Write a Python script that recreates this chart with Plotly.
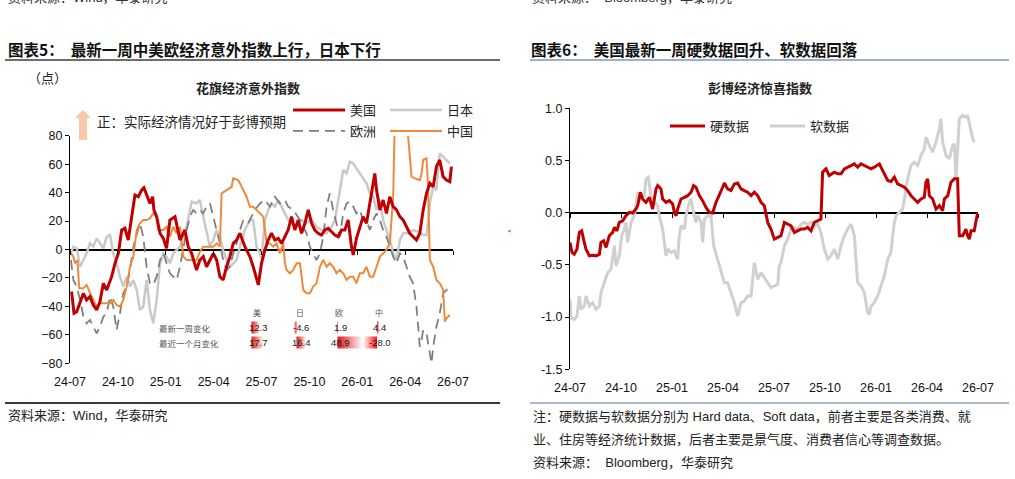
import plotly.graph_objects as go

W, H = 1015, 479
def px(x): return x / W
def py(y): return 1 - y / H

# ---------------- data ----------------
TICK_VALS = [0, 3, 6, 9, 12, 15, 18, 21, 24]          # months since 2024-07
TICK_LABELS = ["24-07", "24-10", "25-01", "25-04", "25-07", "25-10", "26-01", "26-04", "26-07"]

# Citi economic surprise index (months since 2024-07, value)
US = [(0.10,-29.6),(0.25,-44.8),(0.42,-43.7),(0.63,-36.6),(0.84,-30.8),(1.04,-35.5),(1.25,-33.1),(1.46,-39.0),
      (1.67,-42.5),(1.88,-36.6),(2.09,-23.8),(2.30,-28.5),(2.61,-19.1),(2.82,-9.7),(3.03,-2.7),(3.24,13.7),
      (3.44,14.9),(3.65,6.7),(3.86,23.1),(4.07,38.3),(4.28,37.1),(4.49,41.8),(4.63,43.4),(4.80,38.3),
      (5.01,32.4),(5.18,37.1),(5.26,27.8),(5.43,23.1),(5.64,11.4),(5.85,7.8),(6.05,0.8),(6.26,20.7),
      (6.58,23.1),(6.89,6.7),(7.20,13.7),(7.41,2.0),(7.62,-2.7),(7.93,-14.4),(8.14,-7.4),(8.35,-5.0),
      (8.56,-12.1),(8.98,-2.7),(9.19,-7.4),(9.39,-19.1),(9.60,-21.4),(9.81,-12.1),(10.02,-5.0),(10.23,4.3),
      (10.44,6.7),(10.65,11.4),(10.96,2.0),(11.17,-2.7),(11.27,-5.0),(11.48,-12.1),(11.69,-21.4),(11.80,-24.9),
      (12.00,-9.7),(12.21,-0.4),(12.42,6.7),(12.63,11.4),(12.84,6.7),(13.05,7.8),(13.26,4.3),(13.47,9.0),
      (13.67,13.7),(13.88,23.1),(14.09,13.7),(14.30,20.7),(14.51,11.4),(14.72,18.4),(14.93,27.8),(15.14,18.4),
      (15.34,13.7),(15.55,11.4),(15.76,10.2),(15.97,13.7),(16.18,14.9),(16.39,12.5),(16.60,10.2),(16.81,9.0),
      (17.01,13.7),(17.22,13.7),(17.43,20.7),(17.64,2.0),(17.75,-3.9),(17.95,7.8),(18.16,16.0),(18.37,23.1),
      (18.58,18.4),(18.79,32.4),(19.00,44.1),(19.10,53.5),(19.21,41.8),(19.42,27.8),(19.62,34.8),(19.83,25.4),
      (20.04,37.1),(20.25,30.1),(20.46,27.8),(20.67,23.1),(20.88,20.7),(21.09,16.0),(21.29,11.4),(21.50,9.0),
      (21.71,6.7),(21.92,11.4),(22.13,27.8),(22.34,39.5),(22.55,46.5),(22.76,44.1),(22.96,58.2),(23.17,62.9),
      (23.38,51.2),(23.59,48.8),(23.80,47.7),(23.90,58.2)]

JAPAN = [(0.06,-2.7),(0.21,2.0),(0.42,0.8),(0.63,-12.1),(0.84,-7.4),(1.04,-2.7),(1.25,4.3),(1.46,2.0),
         (1.67,7.8),(1.88,4.3),(2.09,0.8),(2.30,9.0),(2.51,10.2),(2.71,-2.7),(2.92,-9.7),(3.13,-19.1),
         (3.34,-26.1),(3.55,-19.1),(3.76,-26.1),(3.97,-21.4),(4.18,-28.5),(4.38,-42.5),(4.59,-40.2),(4.80,-21.4),
         (5.01,-42.5),(5.22,-51.9),(5.43,-35.5),(5.64,-9.7),(5.85,-2.7),(6.05,-5.0),(6.26,-9.7),(6.47,-2.7),
         (6.89,2.0),(7.31,16.0),(7.62,33.6),(7.93,32.4),(8.14,34.8),(8.35,23.1),(8.56,11.4),(8.77,2.0),
         (8.98,6.7),(9.19,13.7),(9.39,9.0),(9.60,-0.4),(9.81,-7.4),(10.02,-12.1),(10.23,-9.7),(10.44,-7.4),
         (10.65,2.0),(10.96,13.7),(11.27,20.7),(11.48,20.7),(11.69,2.0),(11.90,-2.7),(12.00,-6.2),(12.21,20.7),
         (12.42,27.8),(12.63,32.4),(12.84,30.1),(13.05,34.8),(13.26,30.1),(13.47,25.4),(13.67,20.7),(13.88,18.4),
         (14.20,16.0),(14.51,20.7),(14.82,18.4),(15.14,20.7),(15.45,16.0),(15.76,13.7),(16.08,11.4),(16.39,16.0),
         (16.60,20.7),(16.74,30.1),(16.91,41.8),(17.12,55.9),(17.33,53.5),(17.54,61.7),(17.75,60.5),(17.95,57.0),
         (18.16,53.5),(18.37,50.0),(18.58,46.5),(18.79,39.5),(19.00,37.1),(19.21,27.8),(19.42,34.8),(19.62,20.7),
         (19.83,13.7),(20.04,6.7),(20.25,-2.7),(20.46,-7.4),(20.67,6.7),(20.88,11.4),(21.19,11.4),(21.50,13.7),
         (21.82,12.5),(22.13,10.2),(22.34,10.2),(22.55,32.4),(22.76,44.1),(22.96,41.8),(23.17,67.6),(23.38,65.2),
         (23.59,62.9),(23.80,60.5)]

EUROPE = [(0.06,-7.4),(0.21,-21.4),(0.42,-26.1),(0.63,-35.5),(0.84,-47.2),(1.04,-51.9),(1.25,-49.6),(1.46,-54.3),
          (1.67,-59.0),(1.88,-54.3),(2.09,-47.2),(2.30,-44.8),(2.51,-33.1),(2.71,-40.2),(2.92,-56.6),(3.13,-44.8),
          (3.34,-30.8),(3.55,-26.1),(3.76,-14.4),(3.97,2.0),(4.18,11.4),(4.38,18.4),(4.59,9.0),(4.80,-12.1),
          (5.01,-23.8),(5.22,-24.9),(5.43,-19.1),(5.64,-7.4),(5.85,-2.7),(6.05,-9.7),(6.26,-16.7),(6.47,-19.1),
          (6.68,-21.4),(6.89,-12.1),(7.10,2.0),(7.31,13.7),(7.52,23.1),(7.72,27.8),(7.93,25.4),(8.14,27.8),
          (8.35,25.4),(8.56,30.1),(8.77,32.4),(8.98,23.1),(9.19,13.7),(9.39,4.3),(9.60,-7.4),(9.81,-14.4),
          (10.02,-12.1),(10.23,-2.7),(10.44,4.3),(10.65,13.7),(10.86,20.7),(11.17,18.4),(11.59,27.8),(11.90,32.4),
          (12.21,34.8),(12.53,30.1),(12.84,37.1),(13.15,32.4),(13.47,34.8),(13.67,30.1),(13.99,27.8),(14.41,20.7),
          (14.82,11.4),(15.03,2.0),(15.24,-2.7),(15.45,-7.4),(15.66,-2.7),(15.87,9.0),(16.08,30.1),(16.28,39.5),
          (16.49,27.8),(16.70,18.4),(16.91,9.0),(17.12,25.4),(17.33,32.4),(17.54,33.6),(17.75,30.1),(17.95,25.4),
          (18.16,27.8),(18.37,20.7),(18.58,20.7),(18.79,13.7),(19.00,20.7),(19.21,25.4),(19.42,20.7),(19.62,13.7),
          (19.83,9.0),(20.04,2.0),(20.25,-5.0),(20.46,-9.7),(20.67,-2.7),(20.88,-5.0),(21.09,-12.1),(21.29,-19.1),
          (21.50,-23.8),(21.71,-40.2),(21.82,-54.3),(21.92,-68.3),(22.03,-63.6),(22.13,-56.6),(22.34,-59.0),(22.55,-73.0),
          (22.65,-80.0),(22.76,-68.3),(22.96,-54.3),(23.17,-44.8),(23.38,-30.8),(23.59,-28.5),(23.80,-26.1)]

CHINA = [(0.06,-2.7),(0.21,-5.0),(0.31,-9.7),(0.46,-7.4),(0.58,-27.3),(0.84,-27.3),(1.04,-24.9),(1.25,-30.8),
         (1.46,-35.5),(1.67,-40.2),(1.88,-37.8),(2.19,-37.8),(2.51,-37.8),(2.71,-35.5),(2.92,-39.0),(3.13,-40.2),
         (3.34,-35.5),(3.55,-26.1),(3.76,-12.1),(3.97,-5.0),(4.18,13.7),(4.38,18.4),(4.59,20.7),(4.80,20.7),
         (5.01,21.9),(5.22,25.4),(5.43,23.1),(5.53,13.7),(5.85,13.7),(6.05,16.0),(6.26,9.0),(6.47,16.0),
         (6.68,11.4),(6.89,16.0),(7.10,-5.0),(7.31,-7.4),(7.62,-7.4),(7.93,-7.4),(8.14,-1.5),(8.35,2.0),
         (8.66,2.0),(8.98,2.0),(9.19,4.3),(9.39,2.0),(9.50,39.5),(9.81,41.8),(10.13,44.1),(10.23,50.0),
         (10.54,48.8),(10.86,41.8),(11.06,37.1),(11.27,30.1),(11.48,30.1),(11.69,27.8),(12.11,23.1),(12.32,4.3),
         (12.53,4.3),(12.73,2.0),(12.94,4.3),(13.15,-2.7),(13.36,4.3),(13.47,-9.7),(13.57,-14.4),(13.78,-16.7),
         (13.99,-14.4),(14.20,-9.7),(14.41,-9.7),(14.62,-28.5),(14.82,-30.8),(15.03,-30.8),(15.24,-26.1),(15.45,-23.8),
         (15.66,-12.1),(15.87,-7.4),(16.08,-12.1),(16.28,-9.7),(16.49,-12.1),(16.70,-16.7),(16.91,-14.4),(17.12,-16.7),
         (17.33,-21.4),(17.54,-19.1),(17.75,-19.1),(17.95,-23.8),(18.16,-16.7),(18.37,-16.7),(18.58,-12.1),(18.79,-19.1),
         (19.00,-19.1),(19.21,-12.1),(19.42,-5.0),(19.62,-2.7),(19.83,-0.4),(20.04,4.3),(20.15,20.7),(20.25,37.1),
         (20.36,95.0),(21.09,95.0),(21.19,79.3),(21.29,67.6),(21.40,51.2),(21.61,50.0),(21.92,48.8),(22.03,53.5),
         (22.13,62.9),(22.34,64.1),(22.44,44.1),(22.55,-7.4),(22.76,-12.1),(22.96,-21.4),(23.17,-23.8),(23.28,-26.1),
         (23.38,-28.5),(23.49,-50.7),(23.59,-48.3),(23.80,-46.0)]

# Bloomberg economic surprise index
HARD = [(0.00,-0.285),(0.12,-0.381),(0.25,-0.397),(0.41,-0.349),(0.55,-0.189),(0.69,-0.173),(0.84,-0.285),(0.94,-0.349),
        (1.14,-0.413),(1.33,-0.407),(1.53,-0.413),(1.73,-0.397),(1.82,-0.285),(1.98,-0.269),(2.12,-0.333),(2.31,-0.221),
        (2.51,-0.189),(2.61,-0.141),(2.76,-0.173),(2.90,-0.093),(3.10,-0.077),(3.29,-0.029),(3.49,0.003),(3.69,-0.003),
        (3.88,0.035),(3.98,0.067),(4.14,0.196),(4.27,0.131),(4.47,0.099),(4.67,0.147),(4.86,0.035),(5.06,0.228),
        (5.16,0.260),(5.35,0.228),(5.45,0.131),(5.65,0.099),(5.84,0.115),(6.04,0.083),(6.14,0.003),(6.24,-0.029),
        (6.33,0.035),(6.53,0.131),(6.73,0.147),(6.92,0.163),(7.12,0.196),(7.27,0.260),(7.41,0.244),(7.61,0.163),
        (7.80,0.115),(8.00,0.051),(8.20,0.003),(8.39,-0.003),(8.59,0.099),(8.78,0.163),(8.98,0.244),(9.08,0.285),
        (9.27,0.228),(9.47,0.212),(9.67,0.276),(9.86,0.285),(10.06,0.228),(10.25,0.212),(10.45,0.196),(10.65,0.163),
        (10.84,0.196),(11.04,0.163),(11.24,0.099),(11.43,0.067),(11.63,-0.093),(11.82,-0.157),(12.02,-0.253),(12.22,-0.237),
        (12.41,-0.221),(12.61,-0.093),(12.80,-0.109),(13.00,-0.125),(13.20,-0.189),(13.39,-0.173),(13.59,-0.157),(13.78,-0.157),
        (13.98,-0.141),(14.18,-0.173),(14.37,-0.093),(14.57,-0.077),(14.76,-0.061),(14.86,0.388),(15.06,0.420),(15.25,0.356),
        (15.55,0.388),(15.75,0.372),(15.94,0.372),(16.14,0.420),(16.33,0.436),(16.53,0.452),(16.73,0.468),(16.92,0.436),
        (17.12,0.468),(17.31,0.452),(17.51,0.436),(17.71,0.420),(17.90,0.436),(18.10,0.452),(18.20,0.468),(18.29,0.436),
        (18.49,0.372),(18.69,0.308),(18.88,0.298),(19.08,0.340),(19.27,0.276),(19.47,0.260),(19.67,0.244),(19.86,0.212),
        (20.06,0.163),(20.25,0.131),(20.45,0.099),(20.65,0.131),(20.84,0.147),(20.94,0.292),(21.04,0.324),(21.14,0.163),
        (21.33,0.131),(21.53,0.035),(21.73,0.067),(21.92,0.019),(22.02,0.131),(22.22,0.163),(22.41,0.292),(22.61,0.324),
        (22.80,0.324),(22.90,-0.221),(23.10,-0.221),(23.29,-0.157),(23.39,-0.221),(23.49,-0.253),(23.59,-0.173),(23.78,-0.173),
        (23.88,-0.061),(23.98,0.003)]

SOFT = [(0.00,-0.830),(0.06,-1.006),(0.25,-1.022),(0.41,-0.990),(0.55,-0.798),(0.65,-0.926),(0.84,-0.894),(0.94,-0.798),
        (1.14,-0.894),(1.33,-0.862),(1.53,-0.926),(1.73,-0.894),(1.82,-0.766),(2.02,-0.670),(2.22,-0.574),(2.41,-0.542),
        (2.61,-0.317),(2.71,-0.510),(2.90,-0.413),(3.04,-0.221),(3.20,-0.157),(3.29,-0.093),(3.39,-0.285),(3.59,-0.093),
        (3.78,-0.029),(3.88,0.067),(3.98,0.196),(4.18,0.131),(4.37,0.163),(4.47,0.324),(4.61,0.340),(4.76,0.163),
        (4.96,0.099),(5.16,0.067),(5.25,-0.029),(5.45,-0.157),(5.65,-0.413),(5.75,-0.349),(5.94,-0.381),(6.14,-0.365),
        (6.33,-0.445),(6.43,-0.221),(6.53,-0.125),(6.73,-0.157),(6.82,-0.029),(7.02,0.099),(7.12,0.131),(7.22,0.035),
        (7.41,-0.093),(7.51,-0.029),(7.71,-0.093),(7.80,-0.285),(7.90,-0.061),(8.10,-0.029),(8.29,-0.029),(8.45,-0.317),
        (8.69,-0.445),(8.88,-0.542),(9.08,-0.670),(9.27,-0.670),(9.47,-0.766),(9.67,-0.862),(9.86,-0.990),(10.06,-0.862),
        (10.25,-0.846),(10.45,-0.798),(10.65,-0.798),(10.84,-0.478),(11.04,-0.638),(11.24,-0.574),(11.43,-0.622),(11.63,-0.670),
        (11.82,-0.718),(12.02,-0.702),(12.22,-0.686),(12.31,-0.510),(12.41,-0.478),(12.61,-0.317),(12.80,-0.253),(13.00,-0.157),
        (13.20,-0.141),(13.39,-0.157),(13.59,-0.109),(13.78,-0.093),(13.98,-0.109),(14.18,-0.093),(14.37,-0.125),(14.57,-0.109),
        (14.76,-0.189),(14.96,-0.349),(15.16,-0.445),(15.35,-0.413),(15.55,-0.349),(15.75,-0.445),(15.94,-0.317),(16.14,-0.221),
        (16.33,-0.157),(16.53,-0.109),(16.73,-0.221),(16.82,-0.445),(16.92,-0.670),(17.12,-0.702),(17.31,-0.766),(17.51,-0.958),
        (17.61,-0.974),(17.71,-0.894),(17.90,-0.862),(18.10,-0.798),(18.29,-0.702),(18.49,-0.606),(18.69,-0.445),(18.88,-0.381),
        (18.98,-0.221),(19.08,-0.093),(19.18,-0.029),(19.37,0.003),(19.57,0.035),(19.67,0.131),(19.86,0.324),(20.06,0.452),
        (20.25,0.484),(20.45,0.452),(20.65,0.548),(20.84,0.612),(20.94,0.724),(21.14,0.644),(21.33,0.580),(21.53,0.676),
        (21.73,0.804),(21.82,0.901),(21.92,0.676),(22.12,0.548),(22.31,0.516),(22.51,0.644),(22.61,0.660),(22.71,0.324),
        (22.80,0.644),(22.90,0.901),(23.10,0.933),(23.29,0.917),(23.39,0.933),(23.49,0.853),(23.59,0.804),(23.69,0.708),
        (23.78,0.676)]

# small change table
TABLE_COLS = ["美", "日", "欧", "中"]
TABLE_ROWS = ["最新一周变化", "最近一个月变化"]
WEEK_CHG = [12.3, -4.6, 1.9, 4.4]
MONTH_CHG = [17.7, 16.4, 48.9, -28.0]

# ---------------- styles ----------------
CJK = "Noto Sans CJK SC"
LAT = "Liberation Sans, Arial, Noto Sans CJK SC"
NARROW = "Liberation Sans Narrow, Liberation Sans, Noto Sans CJK SC"
RED = "#C00000"
GRAY_L = "#C9C9C9"
GRAY_D = "#7F7F7F"
ORANGE = "#EE8A3C"

def xs(s): return [p[0] for p in s]
def ys(s): return [p[1] for p in s]

fig = go.Figure()

# left chart series (draw order: Japan, Europe, China, US on top)
fig.add_trace(go.Scatter(x=xs(JAPAN), y=ys(JAPAN), name="日本", mode="lines",
                         line=dict(color=GRAY_L, width=2.5), xaxis="x", yaxis="y",
                         legend="legend", legendrank=2))
fig.add_trace(go.Scatter(x=xs(EUROPE), y=ys(EUROPE), name="欧洲", mode="lines",
                         line=dict(color=GRAY_D, width=1.8, dash="10px,6px"), xaxis="x", yaxis="y",
                         legend="legend3", legendrank=3))
fig.add_trace(go.Scatter(x=xs(CHINA), y=ys(CHINA), name="中国", mode="lines",
                         line=dict(color=ORANGE, width=2), xaxis="x", yaxis="y",
                         legend="legend3", legendrank=4))
fig.add_trace(go.Scatter(x=xs(US), y=ys(US), name="美国", mode="lines",
                         line=dict(color=RED, width=3), xaxis="x", yaxis="y",
                         legend="legend", legendrank=1))
# axis carrying the small ticks on the zero line
fig.add_trace(go.Scatter(x=[], y=[], xaxis="x3", yaxis="y", showlegend=False))

# right chart series
fig.add_trace(go.Scatter(x=xs(SOFT), y=ys(SOFT), name="软数据", mode="lines",
                         line=dict(color="#D0D0D0", width=3), xaxis="x2", yaxis="y2",
                         legend="legend2", legendrank=2))
fig.add_trace(go.Scatter(x=xs(HARD), y=ys(HARD), name="硬数据", mode="lines",
                         line=dict(color=RED, width=3), xaxis="x2", yaxis="y2",
                         legend="legend2", legendrank=1))
fig.add_trace(go.Scatter(x=[], y=[], xaxis="x5", yaxis="y2", showlegend=False))

# ---------------- small table with gradient data bars ----------------
COL_AXIS = [251.5, 296.5, 337.5, 377.0]     # px position of each column's bar origin
COL_CENTER = [258, 301, 340, 379.5]
COL_SCALE = [0.65, 0.55, 0.49, 0.47]        # px per index point
ROW_Y = [327.5, 342.5]
HALF_H = 6
for r, row in enumerate([WEEK_CHG, MONTH_CHG]):
    for c, v in enumerate(row):
        x0 = COL_AXIS[c]
        x1 = x0 + v * COL_SCALE[c]
        yt, yb = ROW_Y[r] - HALF_H, ROW_Y[r] + HALF_H
        cs = [[0, "#E01818"], [1, "#FFF2F2"]] if v >= 0 else [[0, "#FFF2F2"], [1, "#FF1010"]]
        fig.add_trace(go.Scatter(x=[x0, x1, x1, x0, x0], y=[yt, yt, yb, yb, yt], mode="lines",
                                 fill="toself", line=dict(width=0),
                                 fillgradient=dict(type="horizontal", colorscale=cs),
                                 xaxis="x4", yaxis="y4", showlegend=False, hoverinfo="skip"))

annotations = []
for c, name in enumerate(TABLE_COLS):
    annotations.append(dict(x=COL_CENTER[c] - 1, y=312, xref="x4", yref="y4", text=name, showarrow=False,
                            font=dict(family=CJK, size=8, color="#555555")))
for r, (lab, row) in enumerate(zip(TABLE_ROWS, [WEEK_CHG, MONTH_CHG])):
    annotations.append(dict(x=157, y=ROW_Y[r], xref="x4", yref="y4", text=lab, showarrow=False,
                            xanchor="left", font=dict(family=CJK, size=8.5, color="#555555")))
    for c, v in enumerate(row):
        annotations.append(dict(x=COL_CENTER[c], y=ROW_Y[r], xref="x4", yref="y4", text=f"{v:.1f}",
                                showarrow=False, font=dict(family=LAT, size=9.5, color="#1a1a1a")))

# ---------------- texts ----------------
def txt(x, y, s, size=13, color="#222222", family=CJK, anchor="left"):
    annotations.append(dict(x=px(x), y=py(y), xref="paper", yref="paper", text=s, showarrow=False,
                            xanchor=anchor, yanchor="middle", font=dict(family=family, size=size, color=color)))

txt(6, -2.5, "资料来源：Wind，华泰研究", 13, "#333333", NARROW)
txt(530, -2.5, "资料来源：  Bloomberg，华泰研究", 13, "#333333", NARROW)
txt(6, 49, "<b>图表5：  最新一周中美欧经济意外指数上行，日本下行</b>", 15.5, "#111111")
txt(529, 49, "<b>图表6：  美国最新一周硬数据回升、软数据回落</b>", 15.5, "#111111")
txt(26, 77, "（点）", 13, "#222222")
txt(248, 88, "<b>花旗经济意外指数</b>", 13, "#222222", CJK, "center")
txt(760, 88, "<b>彭博经济惊喜指数</b>", 13, "#222222", CJK, "center")
txt(95, 121, "正：实际经济情况好于彭博预期", 13.5, "#222222")
txt(6, 415, "资料来源：Wind，华泰研究", 13, "#222222", NARROW)
txt(531, 416, "注：硬数据与软数据分别为 Hard data、Soft data，前者主要是各类消费、就", 13, "#222222", NARROW)
txt(531, 439, "业、住房等经济统计数据，后者主要是景气度、消费者信心等调查数据。", 13, "#222222", NARROW)
txt(531, 462, "资料来源：  Bloomberg，华泰研究", 13, "#222222", NARROW)

# ---------------- decorative shapes ----------------
def hline(x0, x1, y, color, width):
    return dict(type="line", xref="paper", yref="paper", x0=px(x0), x1=px(x1), y0=py(y), y1=py(y),
                line=dict(color=color, width=width))

arrow_pts = [(83, 110), (91, 118), (87, 118), (87, 140), (79, 140), (79, 118), (75, 118)]
arrow_path = "M " + " L ".join(f"{px(a)},{py(b)}" for a, b in arrow_pts) + " Z"
shapes = [
    hline(5, 500, 60, "#6E6E6E", 2),
    hline(530, 1009, 60, "#9DB1C9", 2),
    hline(5, 500, 403, "#3A3A3A", 2),
    hline(530, 1009, 403, "#A9BACE", 2),
    hline(508, 511, 231, "#FF0000", 1),
    dict(type="path", xref="paper", yref="paper", path=arrow_path,
         fillcolor="#F8C9A9", line=dict(width=0)),
]

# ---------------- layout ----------------
tickfont = dict(family=LAT, size=12.5, color="#111111")
common_x = dict(range=[0, 24], tickmode="array", tickvals=TICK_VALS, ticktext=TICK_LABELS,
                showgrid=False, zeroline=False, showline=False, ticks="outside", ticklen=7,
                tickcolor="rgba(0,0,0,0)", tickfont=tickfont, fixedrange=True, automargin=False)
tickaxis = dict(range=[0, 24], tickmode="array", tickvals=TICK_VALS, showticklabels=False,
                showgrid=False, zeroline=False, showline=False, ticks="outside", ticklen=4,
                tickcolor="#000000", tickwidth=1, anchor="free", fixedrange=True, automargin=False)
common_y = dict(showgrid=False, zeroline=True, zerolinecolor="#000000", zerolinewidth=1.5,
                showline=True, linecolor="#000000", linewidth=1, ticks="outside", ticklen=4,
                tickcolor="#000000", tickfont=tickfont, fixedrange=True, automargin=False)

L_X = [70, 453]
L_Y = [135.7, 363.3]
R_X = [570, 978]
R_Y = [108.3, 369.3]

legend_common = dict(orientation="h", xanchor="left", yanchor="middle", bgcolor="rgba(0,0,0,0)",
                     font=dict(family=CJK, size=13, color="#222222"), tracegroupgap=0,
                     itemclick=False, itemdoubleclick=False)

fig.update_layout(
    width=W, height=H, margin=dict(l=0, r=0, t=0, b=0, pad=0, autoexpand=False),
    paper_bgcolor="white", plot_bgcolor="rgba(0,0,0,0)",
    xaxis=dict(domain=[px(L_X[0]), px(L_X[1])], anchor="y", **common_x),
    yaxis=dict(domain=[py(L_Y[1]), py(L_Y[0])], anchor="x", range=[-80, 80],
               tickvals=[-80, -60, -40, -20, 0, 20, 40, 60, 80], **common_y),
    xaxis3=dict(overlaying="x", position=py(249.5), **tickaxis),
    xaxis2=dict(domain=[px(R_X[0]), px(R_X[1])], anchor="y2", **common_x),
    yaxis2=dict(domain=[py(R_Y[1]), py(R_Y[0])], anchor="x2", range=[-1.5, 1.0],
                tickvals=[-1.5, -1.0, -0.5, 0, 0.5, 1.0], ticktext=["-1.5", "-1.0", "-0.5", "0.0", "0.5", "1.0"],
                **common_y),
    xaxis5=dict(overlaying="x2", position=py(212.7), **tickaxis),
    xaxis4=dict(domain=[px(150), px(400)], range=[150, 400], visible=False, anchor="y4", fixedrange=True),
    yaxis4=dict(domain=[py(352), py(305)], range=[352, 305], visible=False, anchor="x4", fixedrange=True),
    legend=dict(x=px(288), y=py(110), itemwidth=52, entrywidth=30, **legend_common),
    legend3=dict(x=px(288), y=py(131), itemwidth=52, entrywidth=30, **legend_common),
    legend2=dict(x=px(665), y=py(126), itemwidth=35, entrywidth=50, **legend_common),
    annotations=annotations,
    shapes=shapes,
    hovermode=False,
)

fig.write_html("out.html")
